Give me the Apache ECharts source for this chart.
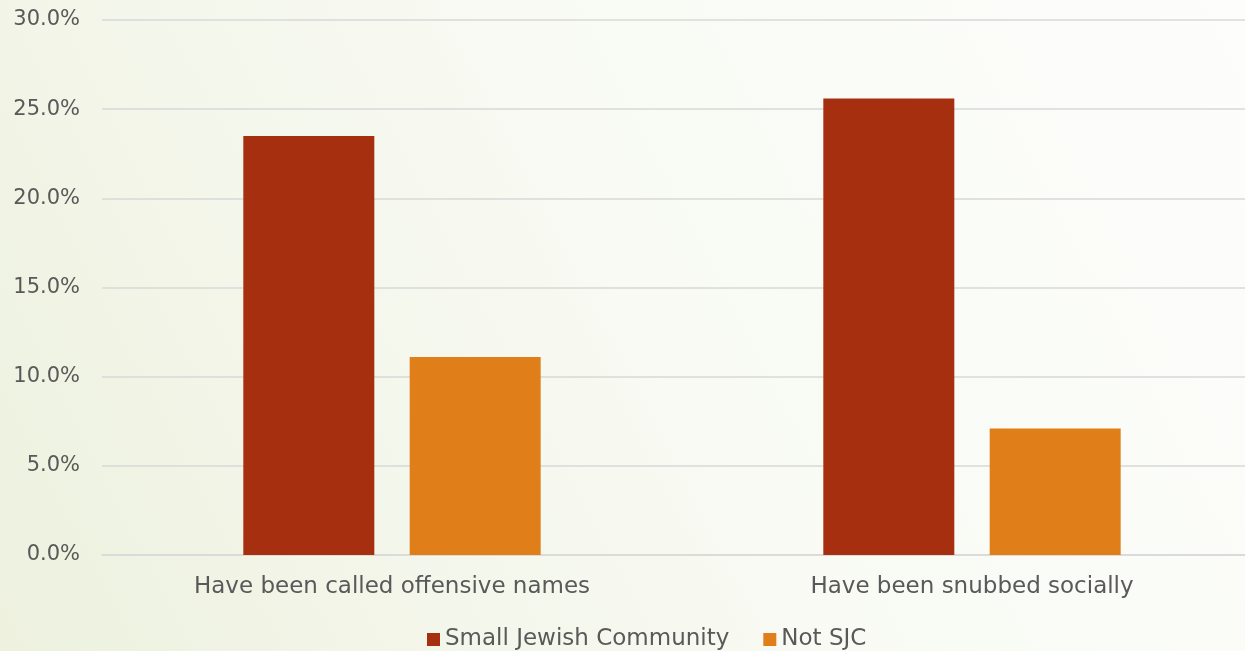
<!DOCTYPE html>
<html>
<head>
<meta charset="utf-8">
<script src="https://cdn.jsdelivr.net/npm/echarts@6/dist/echarts.min.js"></script>
<style>
html,body{margin:0;padding:0;width:1245px;height:651px;overflow:hidden;}
#c{width:1262px;height:651px;}
</style>
</head>
<body>
<div id="c"></div>
<script>
var categories = ['Have been called offensive names', 'Have been snubbed socially'];
var seriesNames = ['Small Jewish Community', 'Not SJC'];
var sjcValues = [23.5, 25.6];
var notSjcValues = [11.1, 7.1];
var colors = ['#A52F0F', '#E07F1A'];

var chart = echarts.init(document.getElementById('c'));
var font = '"DejaVu Sans", sans-serif';
chart.setOption({
  animation: false,
  backgroundColor: {
    type: 'linear', x: 0, y: 1, x2: 1, y2: 0,
    colorStops: [
      {offset: 0, color: '#EDF1DE'},
      {offset: 0.5, color: '#F8FAF3'},
      {offset: 1, color: '#FDFEFC'}
    ]
  },
  grid: {left: 102, top: 20, right: 0, bottom: 96},
  legend: {
    top: 623, left: 422,
    itemWidth: 13, itemHeight: 13, itemGap: 34,
    icon: 'rect',
    textStyle: {color: '#595959', fontSize: 23, fontFamily: font},
    data: seriesNames
  },
  xAxis: {
    type: 'category', data: categories,
    axisLine: {lineStyle: {color: '#D9D9D9', width: 1.5}},
    axisTick: {show: false},
    axisLabel: {color: '#595959', fontSize: 23, fontFamily: font, margin: 21}
  },
  yAxis: {
    type: 'value', min: 0, max: 30, interval: 5,
    axisLine: {show: false}, axisTick: {show: false},
    splitLine: {lineStyle: {color: '#D9D9D9', width: 1.5}},
    axisLabel: {color: '#595959', fontSize: 21, fontFamily: font, margin: 22,
      formatter: function(v){ return v.toFixed(1) + '%'; }}
  },
  series: [
    {name: seriesNames[0], type: 'bar', data: sjcValues, barWidth: 131, barGap: '27%',
     itemStyle: {color: colors[0]}},
    {name: seriesNames[1], type: 'bar', data: notSjcValues, barWidth: 131,
     itemStyle: {color: colors[1]}}
  ]
});
</script>
</body>
</html>
